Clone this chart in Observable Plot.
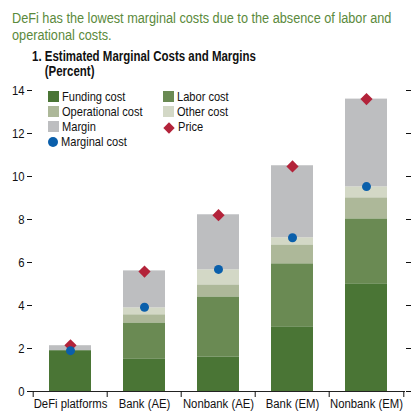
<!DOCTYPE html>
<html>
<head>
<meta charset="utf-8">
<script src="https://cdn.jsdelivr.net/npm/d3@7"></script>
<script src="https://cdn.jsdelivr.net/npm/@observablehq/plot@0.6"></script>
<style>
  body { margin: 0; background: #fff; font-family: "Liberation Sans", Arial, sans-serif; }
  #wrap { position: relative; width: 415px; height: 416px; overflow: hidden; }
  .narrow { display: inline-block; transform: scaleX(0.82); transform-origin: 0 0; white-space: nowrap; }
  .lead { position: absolute; left: 12px; top: 9px; color: #5b8a3c; font-size: 15.5px; line-height: 17px; }
  .title { position: absolute; left: 32px; top: 49px; font-weight: bold; font-size: 14px; line-height: 15px; color: #111; }
  .legend { position: absolute; left: 48px; top: 89px; font-size: 13.5px; color: #111; display: grid; grid-template-columns: 115px 110px; line-height: 15px; white-space: nowrap; }
  .legend .sw { display: inline-block; vertical-align: -1px; margin-right: 3px; }
  .legend .lab { display: inline-block; transform: scaleX(0.82); transform-origin: 0 50%; }
  #chart { position: absolute; left: 0; top: 80px; }
</style>
</head>
<body>
<div id="wrap">
  <div class="lead"><span class="narrow">DeFi has the lowest marginal costs due to the absence of labor and<br>operational costs.</span></div>
  <div class="title"><span class="narrow">1. Estimated Marginal Costs and Margins<br>&nbsp;&nbsp;&nbsp;&nbsp;(Percent)</span></div>
  <div id="chart"></div>
  <div class="legend" id="legend"></div>
</div>
<script>
const categories = ["DeFi platforms", "Bank (AE)", "Nonbank (AE)", "Bank (EM)", "Nonbank (EM)"];
const components = ["Funding cost", "Labor cost", "Operational cost", "Other cost", "Margin"];
const fundingCost = [1.90, 1.52, 1.61, 3.01, 5.01];
const laborCost = [0, 1.67, 2.79, 2.93, 3.02];
const operationalCost = [0, 0.38, 0.56, 0.88, 0.98];
const otherCost = [0, 0.32, 0.70, 0.33, 0.51];
const margin = [0.23, 1.72, 2.56, 3.35, 4.08];
const price = [2.15, 5.58, 8.20, 10.47, 13.60];
const marginalCost = [1.90, 3.92, 5.68, 7.15, 9.53];
const colors = ["#4a7535", "#6a8a53", "#adb899", "#d3d8c6", "#bdbec0"];

const series = [fundingCost, laborCost, operationalCost, otherCost, margin];
const stacked = [];
categories.forEach((c, i) => {
  components.forEach((k, j) => stacked.push({category: c, component: k, value: series[j][i]}));
});
const points = categories.map((c, i) => ({category: c, price: price[i], marginalCost: marginalCost[i]}));

const width = 415, marginLeft = 32, marginRight = 10;
const halfStep = (width - marginLeft - marginRight) / categories.length / 2;

const chart = Plot.plot({
  width: width,
  height: 336,
  marginTop: 10,
  marginBottom: 25,
  marginLeft: marginLeft,
  marginRight: marginRight,
  style: { fontFamily: "'Liberation Sans', Arial, sans-serif", fontSize: "13.5px", color: "#111" },
  x: { domain: categories, paddingInner: 0.43, paddingOuter: 0.215, label: null },
  y: { domain: [0, 14], ticks: [0, 2, 4, 6, 8, 10, 12, 14], label: null },
  color: { domain: components, range: colors },
  marks: [
    Plot.barY(stacked, {x: "category", y: "value", fill: "component", order: components}),
    Plot.ruleY([0], {stroke: "#222", strokeWidth: 1}),
    Plot.axisX({tickSize: 0, tickPadding: 7, fontSize: "13.5px"}),
    Plot.axisX({tickSize: 6, text: null, dx: -halfStep}),
    Plot.axisX({ticks: [categories[categories.length - 1]], tickSize: 6, text: null, dx: halfStep}),
    Plot.axisY({anchor: "left", tickSize: 5, tickPadding: 3}),
    Plot.axisY({anchor: "right", tickSize: 5, tickFormat: () => ""}),
    Plot.dot(points, {x: "category", y: "price", symbol: "diamond2", r: 5.5, fill: "#b3233a"}),
    Plot.dot(points, {x: "category", y: "marginalCost", r: 4.5, fill: "#0a5fab"})
  ]
});
document.getElementById("chart").append(chart);

// squeeze the labels horizontally to mimic the condensed face of the original
d3.select(chart).selectAll("text").each(function () {
  const x = +this.getAttribute("x") || 0, y = +this.getAttribute("y") || 0;
  const t = this.getAttribute("transform") || "";
  this.setAttribute("transform", `${t} translate(${x},${y}) scale(0.84,1) translate(${-x},${-y})`);
});

const legendItems = [
  ["Funding cost", "sq", colors[0]], ["Labor cost", "sq", colors[1]],
  ["Operational cost", "sq", colors[2]], ["Other cost", "sq", colors[3]],
  ["Margin", "sq", colors[4]], ["Price", "diamond", "#b3233a"],
  ["Marginal cost", "dot", "#0a5fab"]
];
const legend = d3.select("#legend");
legendItems.forEach(([label, kind, color]) => {
  const item = legend.append("div");
  let sw;
  if (kind === "sq") sw = `<span class="sw" style="width:11px;height:11px;background:${color}"></span>`;
  else if (kind === "diamond") sw = `<span class="sw" style="width:8px;height:8px;background:${color};transform:rotate(45deg);margin:0 5px 0 2px"></span>`;
  else sw = `<span class="sw" style="width:10px;height:10px;border-radius:50%;background:${color}"></span>`;
  item.html(sw + `<span class="lab">${label}</span>`);
});
</script>
</body>
</html>
